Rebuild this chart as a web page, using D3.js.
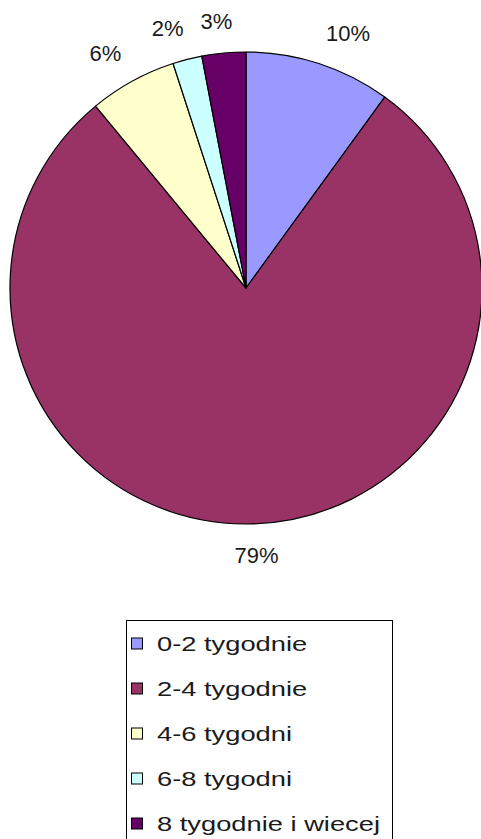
<!DOCTYPE html>
<html>
<head>
<meta charset="utf-8">
<script src="https://cdn.jsdelivr.net/npm/d3@7"></script>
<style>
  html, body { margin: 0; padding: 0; background: #fff; }
  svg { display: block; }
</style>
</head>
<body>
<div id="chart"></div>
<script>
// data
const categories = ["0-2 tygodnie", "2-4 tygodnie", "4-6 tygodni", "6-8 tygodni", "8 tygodnie i wiecej"];
const values = [10, 79, 6, 2, 3];
const colors = ["#9999FF", "#993366", "#FFFFCC", "#CCFFFF", "#660066"];

const width = 481, height = 839;
const cx = 246, cy = 288, radius = 236;

const svg = d3.select("#chart").append("svg")
  .attr("width", width)
  .attr("height", height);

const total = d3.sum(values);
const pie = d3.pie().sort(null).value(d => d);
const arcs = pie(values);
const arc = d3.arc().innerRadius(0).outerRadius(radius);

const g = svg.append("g").attr("transform", `translate(${cx},${cy})`);

// slices
g.selectAll("path.slice")
  .data(arcs)
  .enter()
  .append("path")
  .attr("class", "slice")
  .attr("d", arc)
  .attr("fill", (d, i) => colors[i])
  .attr("stroke", "#000")
  .attr("stroke-width", 1.2)
  .attr("stroke-linejoin", "round");

// percent labels, placed outside like excel does
const labelR = radius + 23;
const labels = g.selectAll("text.pct")
  .data(arcs)
  .enter()
  .append("text")
  .attr("class", "pct")
  .attr("font-family", "'Liberation Sans', Arial, sans-serif")
  .attr("font-size", 22)
  .attr("fill", "#1a1a1a")
  .attr("text-anchor", "middle")
  .attr("dominant-baseline", "central")
  .text(d => Math.round(d.value / total * 100) + "%");

labels.each(function(d) {
  const a = (d.startAngle + d.endAngle) / 2;
  const w = this.getComputedTextLength();
  const h = 17;
  const px = labelR * Math.sin(a);
  const py = -labelR * Math.cos(a);
  const k = Math.max(-1, Math.min(1, 3.5 * Math.sin(a)));
  d3.select(this)
    .attr("x", px + k * w / 2)
    .attr("y", py - Math.cos(a) * h / 2);
});

// legend
const legX = 126, legY = 620, legW = 266, rowH = 45;
const legend = svg.append("g").attr("transform", `translate(${legX},${legY})`);

legend.append("rect")
  .attr("x", 0.5)
  .attr("y", 0.5)
  .attr("width", legW)
  .attr("height", 260)
  .attr("fill", "#fff")
  .attr("stroke", "#000")
  .attr("stroke-width", 1);

const row = legend.selectAll("g.row")
  .data(categories)
  .enter()
  .append("g")
  .attr("class", "row")
  .attr("transform", (d, i) => `translate(0,${23.5 + i * rowH})`);

row.append("rect")
  .attr("x", 5.5)
  .attr("y", -5.5)
  .attr("width", 11)
  .attr("height", 11)
  .attr("fill", (d, i) => colors[i])
  .attr("stroke", "#000")
  .attr("stroke-width", 1);

row.append("text")
  .attr("transform", "translate(31,0) scale(1.3,1)")
  .attr("font-family", "'Liberation Sans', Arial, sans-serif")
  .attr("font-size", 21)
  .attr("fill", "#1a1a1a")
  .attr("dominant-baseline", "central")
  .text(d => d);
</script>
</body>
</html>
